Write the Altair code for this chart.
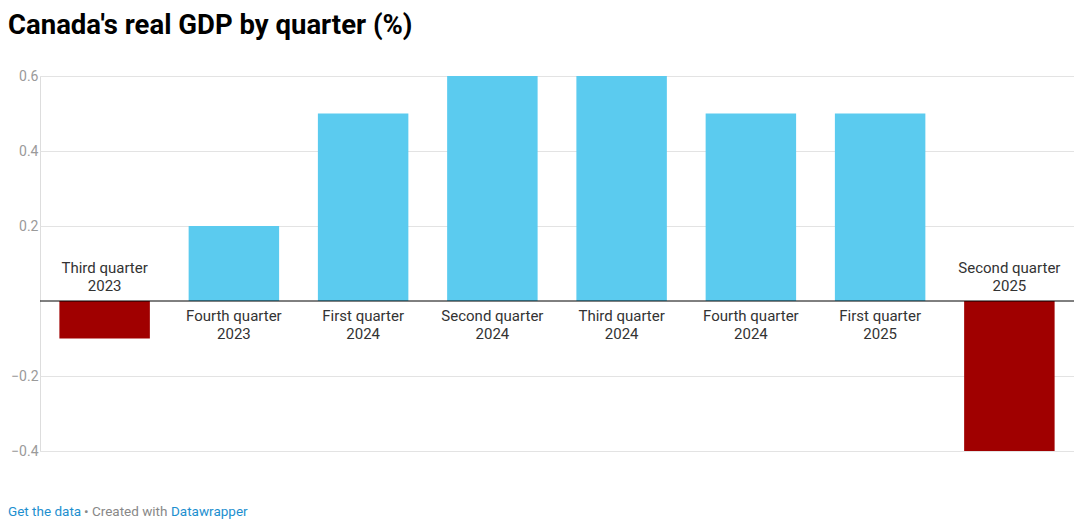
import altair as alt
import pandas as pd

categories = ["Third quarter\n2023", "Fourth quarter\n2023", "First quarter\n2024",
              "Second quarter\n2024", "Third quarter\n2024", "Fourth quarter\n2024",
              "First quarter\n2025", "Second quarter\n2025"]
values = [-0.1, 0.2, 0.5, 0.6, 0.6, 0.5, 0.5, -0.4]
y_ticks = [-0.4, -0.2, 0.2, 0.4, 0.6]
title_text = "Canada's real GDP by quarter (%)"
footer_link = ["Get the data"]
footer_mid = ["• Created with"]
footer_brand = ["Datawrapper"]

df = pd.DataFrame({"quarter": categories, "value": values})

FONT = "Roboto"
W, H = 1034, 375

x = alt.X("quarter:N", sort=categories, axis=None,
          scale=alt.Scale(paddingInner=0.3, paddingOuter=0.15))
y = alt.Y("value:Q", scale=alt.Scale(domain=[-0.4, 0.6], nice=False),
          axis=alt.Axis(values=y_ticks, format=".1f", title=None, domain=False,
                        ticks=False, labelColor="#9a9a9a", labelFontSize=14,
                        labelExpr="replace(datum.label, '-', '\u2212')",
                        labelPadding=2, labelFont=FONT, gridColor="#e3e3e3"))

base = alt.Chart(df)
bars = base.mark_bar().encode(
    x=x, y=y,
    color=alt.condition("datum.value < 0", alt.value("#a00000"), alt.value("#5bcbef")),
)
zero = alt.Chart(pd.DataFrame({"z": [0]})).mark_rule(color="#000000", strokeWidth=1).encode(
    y=alt.datum(0)
)
pos_labels = base.transform_filter("datum.value >= 0").mark_text(
    baseline="top", dy=8, lineBreak="\n", fontSize=15, font=FONT, color="#333333", lineHeight=17.5
).encode(x=x, y=alt.datum(0), text="quarter:N")
neg_labels = base.transform_filter("datum.value < 0").mark_text(
    baseline="bottom", dy=-25, lineBreak="\n", fontSize=15, font=FONT, color="#333333", lineHeight=17.5
).encode(x=x, y=alt.datum(0), text="quarter:N")

def footer(parts, color, xpos):
    return alt.Chart(pd.DataFrame({"t": parts})).mark_text(
        align="left", baseline="middle", fontSize=13.5, font=FONT, color=color
    ).encode(x=alt.value(xpos), y=alt.value(436), text="t:N")

f1 = footer(footer_link, "#1d8fcf", -32)
f2 = footer(footer_mid, "#888888", 44)
f3 = footer(footer_brand, "#1d8fcf", 131)

chart = alt.layer(bars, zero, pos_labels, neg_labels, f1, f2, f3).properties(
    width=W, height=H,
    title=alt.TitleParams(title_text, anchor="start", font=FONT, fontSize=27.5,
                          fontWeight="bold", color="#000000", offset=30),
    autosize=alt.AutoSizeParams(type="none"),
    padding={"left": 32, "top": 68, "right": 0, "bottom": 70},
).configure_view(stroke=None).configure(background="white")

chart.save("out.html", embed_options={"renderer": "svg", "actions": False})
